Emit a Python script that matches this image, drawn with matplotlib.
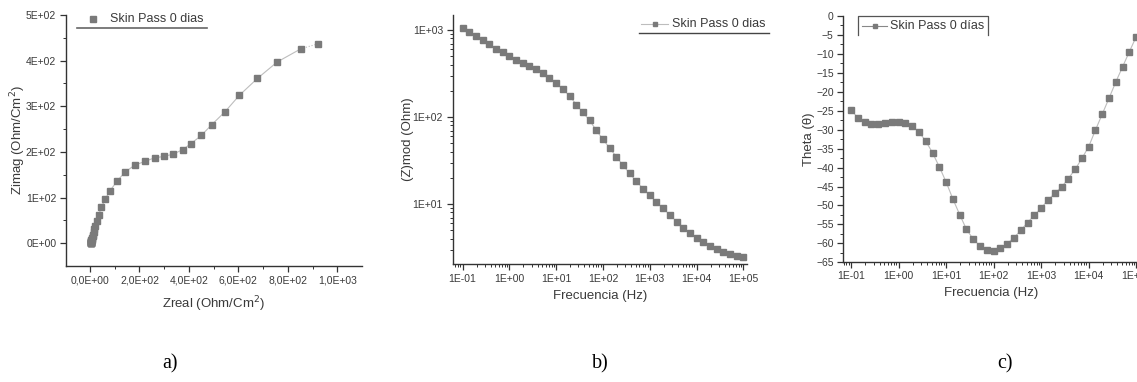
import numpy as np
import matplotlib
matplotlib.use("Agg")
import matplotlib.pyplot as plt
from matplotlib.lines import Line2D
from matplotlib.ticker import FixedLocator, LogLocator, NullFormatter

plt.rcParams['font.family'] = ['Liberation Sans', 'DejaVu Sans']

# ---------------- data ----------------
series_label = "Skin Pass 0 dias"
series_label_c = "Skin Pass 0 días"

# frequency exponents: 7 points per decade from 1E-01 to 1E+05
freq_exp = [-1 + k / 7 for k in range(43)]

zmod = [1054, 949, 861, 767, 684, 610, 553, 502, 456, 421, 389, 357, 321, 283,
        248, 208, 176, 139, 113, 91.6, 70.3, 55.4, 44.0, 35.0, 27.8, 22.5, 18.2,
        15.0, 12.6, 10.5, 8.9, 7.5, 6.3, 5.3, 4.7, 4.06, 3.62, 3.26, 3.01, 2.78,
        2.64, 2.52, 2.44]

theta = [-24.9, -26.8, -28.0, -28.5, -28.5, -28.3, -28.1, -28.1, -28.3, -29.0,
         -30.6, -33.0, -36.1, -39.8, -43.8, -48.3, -52.4, -56.3, -58.9, -60.7,
         -61.7, -61.9, -61.2, -60.1, -58.5, -56.6, -54.5, -52.6, -50.7, -48.6,
         -46.8, -45.2, -42.9, -40.5, -37.6, -34.5, -30.1, -25.9, -21.7, -17.4,
         -13.4, -9.4, -5.5]

zreal = [923, 853, 757, 677, 604, 546, 493, 450, 408, 375, 336, 298, 261, 221,
         181, 142, 111, 81, 61, 46, 35, 27, 21.2, 17.4, 14.5, 12.4, 10.6, 9.1,
         8.0, 6.9, 6.1, 5.3, 4.6, 4.0, 3.7, 3.35, 3.13, 2.93, 2.80, 2.65, 2.57,
         2.49, 2.40]
zimag = [437, 426, 397, 361, 324, 288, 260, 236, 218, 205, 195, 190, 187, 179,
         171, 156, 137, 115, 96, 79, 61, 49, 38.6, 30.3, 23.7, 18.8, 14.8, 11.9,
         9.75, 7.9, 6.5, 5.3, 4.3, 3.4, 2.9, 2.3, 1.8, 1.4, 1.1, 0.83, 0.61,
         0.41, 0.2]

a_xticks = [0, 200, 400, 600, 800, 1000]
a_xticklabels = ["0,0E+00", "2,0E+02", "4,0E+02", "6,0E+02", "8,0E+02", "1,0E+03"]
a_yticks = [0, 100, 200, 300, 400, 500]
a_yticklabels = ["0E+00", "1E+02", "2E+02", "3E+02", "4E+02", "5E+02"]
freq_ticks = [1e-1, 1e0, 1e1, 1e2, 1e3, 1e4, 1e5]
freq_ticklabels = ["1E-01", "1E+00", "1E+01", "1E+02", "1E+03", "1E+04", "1E+05"]
b_yticks = [10, 100, 1000]
b_yticklabels = ["1E+01", "1E+02", "1E+03"]
c_yticks = list(range(0, -70, -5))

freq = [10 ** e for e in freq_exp]

# ---------------- figure ----------------
W, H = 1137, 382
fig = plt.figure(figsize=(W / 100, H / 100), dpi=100)
fig.patch.set_facecolor("white")

def px_axes(left, top, right, bottom):
    return fig.add_axes([left / W, 1 - bottom / H, (right - left) / W, (bottom - top) / H])

def fy(y):
    return 1 - y / H

TXT = "#3a3a3a"
SP = "#333333"
MK = "#7a7a7a"
LN = "#bdbdbd"
tick_fs = 7.5
lab_fs = 9.5
leg_fs = 9

def style(ax, pad=3):
    for s in ["top", "right"]:
        ax.spines[s].set_visible(False)
    for s in ["left", "bottom"]:
        ax.spines[s].set_color(SP)
        ax.spines[s].set_linewidth(1.0)
    ax.tick_params(which="major", direction="out", length=4, width=0.9, colors=SP,
                   labelcolor=TXT, labelsize=tick_fs, pad=pad)
    ax.tick_params(which="minor", direction="out", length=2, width=0.7, colors=SP)
    ax.set_facecolor("white")

def place_labels(ax, left, top, right, bottom, xlab_center_y, ylab_center_x):
    # xlabel is top-anchored, ylabel is anchored at its right edge
    ax.xaxis.set_label_coords(0.5, (bottom - (xlab_center_y - 6)) / (bottom - top))
    ax.yaxis.set_label_coords(((ylab_center_x + 6) - left) / (right - left), 0.5)

# ---- panel a ----
A = (66, 15, 362, 266)
axa = px_axes(*A)
style(axa)
axa.plot(zreal[1:], zimag[1:], color=LN, lw=0.8, zorder=1)
axa.plot(zreal[:2], zimag[:2], color=LN, lw=0.8, ls=":", zorder=1)
axa.plot(zreal, zimag, ls="none", marker="s", ms=4.2, color=MK, mec=MK, zorder=2)
axa.set_xlim(-97, 1100)
axa.set_ylim(-50, 500)
axa.set_xticks(a_xticks)
axa.set_xticklabels(a_xticklabels)
axa.set_yticks(a_yticks)
axa.set_yticklabels(a_yticklabels)
axa.xaxis.set_minor_locator(FixedLocator([100, 300, 500, 700, 900]))
axa.yaxis.set_minor_locator(FixedLocator([50, 150, 250, 350, 450]))
axa.set_xlabel("Zreal (Ohm/Cm$^2$)", fontsize=lab_fs, color=TXT)
axa.set_ylabel("Zimag (Ohm/Cm$^2$)", fontsize=lab_fs, color=TXT)
place_labels(axa, *A, 300, 22)
# legend a
fig.add_artist(Line2D([93 / W], [fy(19)], color=MK, marker="s", ms=4.2, ls="none"))
fig.text(110 / W, fy(19), series_label, fontsize=leg_fs, color=TXT, ha="left", va="center")
fig.add_artist(Line2D([77 / W, 207 / W], [fy(27.5), fy(27.5)], color="#666666", lw=1.2))

# ---- panel b ----
B = (452.7, 15, 746.7, 264.3)
axb = px_axes(*B)
style(axb)
axb.set_xscale("log")
axb.set_yscale("log")
axb.plot(freq, zmod, color=LN, lw=0.8, marker="s", ms=4.2, mfc=MK, mec=MK)
axb.set_xlim(10 ** -1.21, 10 ** 5.07)
axb.set_ylim(2.03, 1490)
axb.xaxis.set_major_locator(FixedLocator(freq_ticks))
axb.set_xticklabels(freq_ticklabels)
axb.xaxis.set_minor_locator(LogLocator(base=10, subs=np.arange(2, 10)))
axb.xaxis.set_minor_formatter(NullFormatter())
axb.yaxis.set_major_locator(FixedLocator(b_yticks))
axb.set_yticklabels(b_yticklabels)
axb.yaxis.set_minor_locator(LogLocator(base=10, subs=np.arange(2, 10)))
axb.yaxis.set_minor_formatter(NullFormatter())
axb.set_xlabel("Frecuencia (Hz)", fontsize=lab_fs, color=TXT)
axb.set_ylabel("(Z)mod (Ohm)", fontsize=lab_fs, color=TXT)
place_labels(axb, *B, 296, 408)
# legend b
fig.add_artist(Line2D([641 / W, 668 / W], [fy(24), fy(24)], color=LN, lw=0.8))
fig.add_artist(Line2D([654.5 / W], [fy(24)], color=MK, marker="s", ms=3.5, ls="none"))
fig.text(672 / W, fy(24), series_label, fontsize=leg_fs, color=TXT, ha="left", va="center")
fig.add_artist(Line2D([639 / W, 769 / W], [fy(33), fy(33)], color="#444444", lw=1.0))

# ---- panel c ----
C = (842.7, 16, 1139.5, 262.3)
axc = px_axes(*C)
style(axc, pad=2.5)
axc.set_xscale("log")
axc.plot(freq, theta, color=LN, lw=0.8, marker="s", ms=4.2, mfc=MK, mec=MK)
axc.set_xlim(10 ** -1.176, 10 ** 5.07)
axc.set_ylim(-65, 0)
axc.xaxis.set_major_locator(FixedLocator(freq_ticks))
axc.set_xticklabels(freq_ticklabels)
axc.xaxis.set_minor_locator(LogLocator(base=10, subs=np.arange(2, 10)))
axc.xaxis.set_minor_formatter(NullFormatter())
axc.set_yticks(c_yticks)
axc.yaxis.set_minor_locator(FixedLocator([v - 2.5 for v in c_yticks[:-1]]))
axc.set_xlabel("Frecuencia (Hz)", fontsize=lab_fs, color=TXT)
axc.set_ylabel("Theta (\u03b8)", fontsize=lab_fs, color=TXT)
place_labels(axc, *C, 293, 809)
# legend c (open-bottom box)
bx0, bx1, by0, by1 = 858, 988, 16, 35
fig.add_artist(Line2D([bx0 / W, bx0 / W, bx1 / W, bx1 / W],
                      [fy(by1), fy(by0), fy(by0), fy(by1)],
                      color="#555555", lw=0.9))
fig.add_artist(Line2D([862 / W, 887 / W], [fy(26), fy(26)], color="#888888", lw=0.8))
fig.add_artist(Line2D([874.5 / W], [fy(26)], color=MK, marker="s", ms=3.5, ls="none"))
fig.text(890 / W, fy(26), series_label_c, fontsize=leg_fs, color=TXT, ha="left", va="center")

# ---- panel captions ----
for xc, lab in [(170, "a)"), (600, "b)"), (1005, "c)")]:
    fig.text(xc / W, fy(364), lab, fontsize=14.5, family="Liberation Serif",
             color="black", ha="center", va="center")

fig.savefig("out.png", dpi=100)
